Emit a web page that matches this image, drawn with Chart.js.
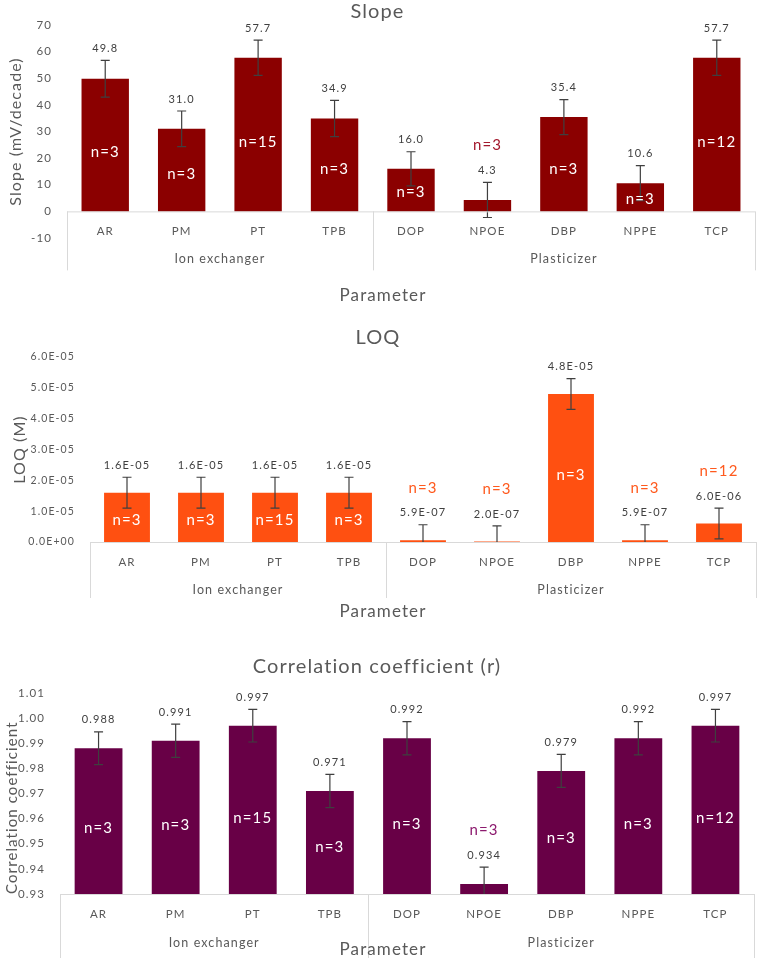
<!DOCTYPE html>
<html>
<head>
<meta charset="utf-8">
<script src="https://cdn.jsdelivr.net/npm/chart.js@4.4.1/dist/chart.umd.min.js"></script>
<style>
  body { margin: 0; background: #fff; }
  canvas { position: absolute; left: 0; }
</style>
</head>
<body>
<canvas id="slopeChart" width="758" height="310" style="top:0px"></canvas>
<canvas id="loqChart" width="758" height="305" style="top:320px"></canvas>
<canvas id="corrChart" width="758" height="318" style="top:640px"></canvas>
<script>
// shared categories
const categories = ['AR', 'PM', 'PT', 'TPB', 'DOP', 'NPOE', 'DBP', 'NPPE', 'TCP'];
const groupNames = ['Ion exchanger', 'Plasticizer'];
const groupSizes = [4, 5];
const sampleCounts = [3, 3, 15, 3, 3, 3, 3, 3, 12];

// slope (mV/decade)
const slopeValues = [49.8, 31.0, 57.7, 34.9, 16.0, 4.3, 35.4, 10.6, 57.7];
const slopeErrors = [6.9, 6.7, 6.6, 6.8, 6.4, 6.6, 6.6, 6.6, 6.6];
const slopeTicks = [-10, 0, 10, 20, 30, 40, 50, 60, 70];

// LOQ (M)
const loqValues = [1.6e-5, 1.6e-5, 1.6e-5, 1.6e-5, 5.9e-7, 2.0e-7, 4.8e-5, 5.9e-7, 6.0e-6];
const loqErrors = [5e-6, 5e-6, 5e-6, 5e-6, 5e-6, 5e-6, 5e-6, 5e-6, 5e-6];
const loqTicks = [0, 1e-5, 2e-5, 3e-5, 4e-5, 5e-5, 6e-5];
const loqTickLabels = ['0.0E+00', '1.0E-05', '2.0E-05', '3.0E-05', '4.0E-05', '5.0E-05', '6.0E-05'];

// correlation coefficient (r)
const corrValues = [0.988, 0.991, 0.997, 0.971, 0.992, 0.934, 0.979, 0.992, 0.997];
const corrErrors = [0.0065, 0.0066, 0.0065, 0.0066, 0.0066, 0.0067, 0.0066, 0.0066, 0.0065];
const corrTicks = [0.93, 0.94, 0.95, 0.96, 0.97, 0.98, 0.99, 1.00, 1.01];

const FONT = 'Lato, "Open Sans", sans-serif';
const GRAY = '#595959';
const SPACING = '1.1px'; // the original text is rendered quite loose

function sci(v) {
    const [m, e] = v.toExponential(1).split('e');
    const n = parseInt(e, 10);
    return m + 'E' + (n < 0 ? '-' : '+') + String(Math.abs(n)).padStart(2, '0');
}

// error bars, value labels, n labels and the two-level category axis
const annotatePlugin = {
    id: 'annotate',
    beforeDraw(chart) {
        chart.ctx.letterSpacing = SPACING;
    },
    afterDatasetsDraw(chart, args, o) {
        const { ctx, chartArea } = chart;
        const xs = chart.scales.x, ys = chart.scales.y;
        const meta = chart.getDatasetMeta(0);
        const base = ys.getPixelForValue(o.axisValue);

        ctx.save();
        ctx.beginPath();
        ctx.rect(0, 0, chart.width, chartArea.bottom);
        ctx.clip();
        ctx.strokeStyle = '#3f3f3f';
        ctx.lineWidth = 1.2;
        o.values.forEach((v, i) => {
            const px = meta.data[i].x;
            const hi = ys.getPixelForValue(v + o.errors[i]);
            const lo = ys.getPixelForValue(v - o.errors[i]);
            ctx.beginPath();
            ctx.moveTo(px, hi); ctx.lineTo(px, lo);
            ctx.moveTo(px - 4.5, hi); ctx.lineTo(px + 4.5, hi);
            ctx.moveTo(px - 4.5, lo); ctx.lineTo(px + 4.5, lo);
            ctx.stroke();
        });
        ctx.restore();

        ctx.save();
        ctx.letterSpacing = SPACING;
        ctx.textAlign = 'center';
        ctx.textBaseline = 'middle';
        o.values.forEach((v, i) => {
            const px = meta.data[i].x;
            const hi = ys.getPixelForValue(v + o.errors[i]);
            const top = ys.getPixelForValue(v);
            const h = base - top;
            ctx.font = '11px ' + FONT;
            ctx.fillStyle = '#404040';
            ctx.fillText(o.format(v), px, hi - 12);
            ctx.font = '15px ' + FONT;
            const txt = 'n=' + sampleCounts[i];
            if (h < 20) {
                ctx.fillStyle = o.outColor;
                ctx.fillText(txt, px, hi - 37);
            } else {
                ctx.fillStyle = '#ffffff';
                ctx.fillText(txt, px, base - Math.max(10, 0.45 * h));
            }
        });

        // category axis with group boxes
        ctx.strokeStyle = '#d9d9d9';
        ctx.lineWidth = 1;
        const split = (xs.getPixelForValue(groupSizes[0] - 1) + xs.getPixelForValue(groupSizes[0])) / 2;
        ctx.beginPath();
        ctx.moveTo(chartArea.left, base + 0.5); ctx.lineTo(chartArea.right, base + 0.5);
        [chartArea.left, split, chartArea.right].forEach(gx => {
            ctx.moveTo(Math.round(gx) + 0.5, base); ctx.lineTo(Math.round(gx) + 0.5, base + o.boxDepth);
        });
        ctx.stroke();

        ctx.fillStyle = GRAY;
        ctx.font = '11.5px ' + FONT;
        categories.forEach((c, i) => ctx.fillText(c, xs.getPixelForValue(i), base + 20));
        ctx.font = '12.5px ' + FONT;
        ctx.fillText(groupNames[0], (chartArea.left + split) / 2, base + o.groupGap);
        ctx.fillText(groupNames[1], (split + chartArea.right) / 2, base + o.groupGap);

        ctx.font = '17px ' + FONT;
        ctx.fillText('Parameter', chart.width / 2 + 4, base + o.titleGap);
        ctx.restore();
    }
};

function makeChart(id, cfg) {
    new Chart(document.getElementById(id), {
        type: 'bar',
        data: {
            labels: categories,
            datasets: [{
                data: cfg.values,
                backgroundColor: cfg.color,
                barPercentage: 0.62,
                categoryPercentage: 1.0
            }]
        },
        options: {
            responsive: false,
            animation: false,
            layout: { padding: { top: 0, left: 0, right: cfg.padRight, bottom: cfg.padBottom } },
            plugins: {
                legend: { display: false },
                tooltip: { enabled: false },
                title: {
                    display: true,
                    text: cfg.title,
                    color: GRAY,
                    font: { family: FONT, size: 20, weight: 'normal' },
                    padding: { top: cfg.titleTop, bottom: cfg.titleBottom }
                },
                annotate: {
                    values: cfg.values,
                    errors: cfg.errors,
                    format: cfg.format,
                    outColor: cfg.outColor,
                    axisValue: cfg.axisValue,
                    boxDepth: cfg.boxDepth,
                    groupGap: cfg.groupGap,
                    titleGap: cfg.titleGap
                }
            },
            scales: {
                x: { display: false },
                y: {
                    min: cfg.ticks[0],
                    max: cfg.ticks[cfg.ticks.length - 1],
                    afterBuildTicks: s => { s.ticks = cfg.ticks.map(v => ({ value: v })); },
                    afterFit: s => { s.width = cfg.axisWidth; },
                    grid: { display: false, drawTicks: false },
                    border: { display: false },
                    ticks: {
                        padding: 15,
                        color: GRAY,
                        font: { family: FONT, size: cfg.tickSize },
                        callback: cfg.tickFormat
                    },
                    title: {
                        display: true,
                        text: cfg.yTitle,
                        align: cfg.yTitleAlign,
                        color: GRAY,
                        font: { family: FONT, size: cfg.yTitleSize },
                        padding: { top: cfg.yTitlePad, bottom: 0 }
                    }
                }
            }
        },
        plugins: [annotatePlugin]
    });
}

makeChart('slopeChart', {
    title: 'Slope', yTitle: 'Slope (mV/decade)', yTitleSize: 16, yTitleAlign: 'center',
    values: slopeValues, errors: slopeErrors, ticks: slopeTicks, tickSize: 11.5,
    color: '#8b0000', outColor: '#a3182c',
    format: v => v.toFixed(1),
    tickFormat: v => String(v),
    axisValue: 0, axisWidth: 67, padRight: 3, padBottom: 72,
    titleTop: 0, titleBottom: 1, yTitlePad: 6,
    boxDepth: 59, groupGap: 48, titleGap: 84
});

makeChart('loqChart', {
    title: 'LOQ', yTitle: 'LOQ (M)', yTitleSize: 16, yTitleAlign: 'center',
    values: loqValues, errors: loqErrors, ticks: loqTicks, tickSize: 10.5,
    color: '#ff5011', outColor: '#ff5a1e',
    format: sci,
    tickFormat: (v, i) => loqTickLabels[i],
    axisValue: 0, axisWidth: 90, padRight: 2, padBottom: 83,
    titleTop: 6, titleBottom: 7, yTitlePad: 10,
    boxDepth: 56, groupGap: 48, titleGap: 70
});

makeChart('corrChart', {
    title: 'Correlation coefficient (r)', yTitle: 'Correlation coefficient', yTitleSize: 15, yTitleAlign: 'start',
    values: corrValues, errors: corrErrors, ticks: corrTicks, tickSize: 11.5,
    color: '#680046', outColor: '#8c1a6e',
    format: v => v.toFixed(3),
    tickFormat: v => v.toFixed(2),
    axisValue: 0.93, axisWidth: 60, padRight: 4, padBottom: 64,
    titleTop: 15, titleBottom: 14, yTitlePad: 3,
    boxDepth: 64, groupGap: 49, titleGap: 56
});
</script>
</body>
</html>
